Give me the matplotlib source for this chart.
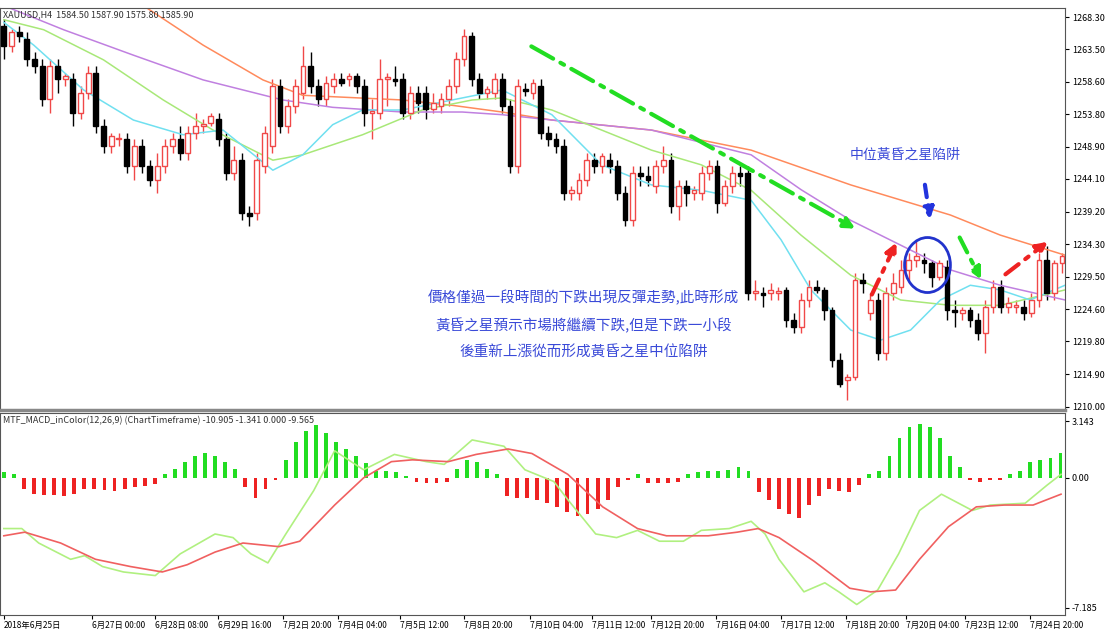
import matplotlib
matplotlib.use("Agg")
import matplotlib.pyplot as plt
from matplotlib.patches import Ellipse, FancyArrowPatch
import numpy as np

plt.rcParams['font.family'] = ['Noto Sans CJK TC', 'DejaVu Sans']

# ---------------- data ----------------
# candles: (open, high, low, close)
candles = [
 (1267,1268,1262,1264),(1264,1266.5,1263,1266),(1266,1267,1264.5,1265.5),(1265,1266,1261,1262),
 (1262,1263,1260,1261),(1261,1262,1255,1256),(1256,1262,1254,1261),(1261,1262,1257,1259),
 (1259,1260,1258,1259.5),(1259,1260,1252,1254),(1254,1258,1253,1257),(1257,1261,1256,1260),
 (1260,1261,1251,1252),(1252,1253,1248,1249),(1249,1251,1248,1250.5),(1250,1251,1249,1250.2),
 (1250,1251,1245,1246),(1246,1250,1244,1249),(1249,1250,1245,1246),(1246,1247,1243,1244),
 (1244,1248,1242,1246),(1246,1250,1245,1249),(1249,1251,1248,1250),(1250,1252,1247,1248),
 (1248,1252,1247,1251),(1251,1254,1250,1252),(1252,1253,1251,1252.3),(1252.5,1254,1252,1253.5),
 (1253,1254,1249,1250),(1250,1251,1244,1245),(1245,1249,1244,1247),(1247,1248,1238,1239),
 (1239,1240,1237,1238.5),(1239,1248,1238,1247),(1246,1252,1245,1251),(1249,1259,1248,1258),
 (1258,1259,1251,1252),(1252,1256,1251,1255),(1255,1259,1254,1258),(1257,1264,1256,1261),
 (1261,1263,1257,1258),(1258,1259,1255,1256),(1256,1259.5,1255,1258.5),(1258,1260,1257,1259),
 (1259,1260,1258,1258.5),(1259,1260,1258,1259.5),(1259.5,1260,1257,1258),(1258,1259,1252,1254),
 (1254,1256,1250,1254.2),(1254,1262,1253,1259),(1259,1260,1255,1259.3),(1259,1261,1258,1258.8),
 (1259,1260,1253,1254),(1254,1258,1253,1257),(1257,1258,1254,1255.5),(1257,1258,1253,1254.5),
 (1254.5,1257,1254,1255.5),(1255,1257,1254,1256),(1256,1259,1255,1258),(1258,1263,1257,1262),
 (1262,1266.5,1261,1265.5),(1265.5,1266,1258,1259),(1259,1260,1256,1257),(1257,1258,1256,1257.5),
 (1257,1260,1256,1259),(1259,1260,1254,1255),(1255,1256,1245,1246),(1246,1259,1245,1258),
 (1257.5,1258.5,1256.5,1257.2),(1257,1259,1256,1258.5),(1258,1259,1250,1251),(1251,1252,1249,1250),
 (1250,1251,1248,1249),(1249,1250,1241,1242),(1242,1243,1241,1242.5),(1242,1245,1241,1244),
 (1244,1248,1243,1247),(1247,1248,1245,1246),(1246,1248,1245,1247.5),(1247,1248,1245,1246),
 (1246,1247,1241,1242),(1242,1243,1237,1238),(1238,1246,1237,1245),(1245,1246,1243,1244.5),
 (1244.5,1246,1243,1244),(1243,1247,1242,1246),(1246,1249,1245,1247),(1247,1248,1239,1240),
 (1240,1244,1238,1243),(1243,1244,1240,1242),(1242,1243,1241,1242.5),(1242,1246,1241,1245),
 (1245,1247,1244,1246),(1246,1247,1239,1240.5),(1240.5,1244,1240,1243),(1243,1246,1242,1245),
 (1245,1246,1243,1244.5),(1245,1246,1226,1227),(1227,1229,1226,1227.3),(1227,1228,1225,1226.8),
 (1227,1228.5,1226,1227.5),(1227,1228,1226,1227.3),(1227.5,1228,1222,1223),(1223,1224,1221,1222),
 (1222,1227,1221,1226),(1226,1229,1225,1228),(1228,1229,1227,1227.5),(1227.5,1228,1223,1224.5),
 (1224.5,1225,1216,1217),(1217,1218,1213,1213.5),(1214,1215,1211,1214.5),(1214.5,1230,1214,1229),
 (1229,1230,1227,1228.5),(1224,1227,1223,1226),(1226,1227,1217,1218),(1218,1228,1217,1227),
 (1227,1230,1226,1228.5),(1228,1232,1227,1230.5),(1230.5,1233,1229,1232),(1232,1235,1231,1232.5),
 (1232,1233,1230,1231.5),(1231.5,1232,1228,1229.5),(1229.5,1232,1229,1231.5),(1231,1232,1223,1224.5),
 (1224.5,1226,1222,1224.2),(1224,1225,1223,1224.5),(1224.5,1225,1222,1223),(1223,1224,1220,1221),
 (1221,1226,1218,1225),(1225,1229,1224,1228),(1228,1229,1224,1225),(1225,1226.5,1224,1225.5),
 (1225,1226,1224,1225.3),(1225,1226,1223,1224),(1224,1227,1223.5,1226),(1226,1233,1225,1232),
 (1232,1234,1226,1227),(1227,1232,1226,1231.5),(1231.5,1233,1230,1232.5),
]

# moving averages: (x position in chart pixels, price)
ma_orange_px = [140,200,260,300,400,450,500,550,650,750,850,950,1000,1065]
ma_orange = [1270,1264.1,1258.9,1256.6,1255.9,1255.1,1254.1,1252.9,1251.4,1248.4,1243.2,1238.7,1235.7,1232.7]
ma_purple_px = [0,60,130,200,280,330,400,460,500,550,650,750,800,850,900,950,1000,1065]
ma_purple = [1270,1266.4,1262.6,1258.9,1255.9,1254.8,1254.1,1254.1,1253.7,1252.9,1251.4,1247.7,1242.5,1237.9,1234.2,1230.5,1228.2,1226.0]
ma_green_px = [0,40,100,160,210,270,300,360,420,470,500,550,600,650,700,750,800,850,900,950,1000,1065]
ma_green = [1267.9,1266.4,1261.9,1255.9,1251.4,1246.9,1247.7,1250.7,1254.4,1255.9,1256.2,1254.4,1251.4,1248.4,1246.2,1242.4,1235.7,1229.7,1226.0,1225.2,1225.2,1227.5]
ma_cyan_px = [0,30,80,130,180,220,270,300,330,360,400,450,500,550,600,650,700,750,780,810,850,880,910,940,970,1000,1030,1065]
ma_cyan = [1267.5,1264.1,1257.4,1252.9,1250.7,1251.4,1245.4,1247.7,1252.2,1254.4,1254.4,1255.9,1257.4,1253.7,1246.2,1243.2,1242.4,1240.9,1235,1227.5,1221.5,1220.0,1221.5,1226.0,1228.2,1227.5,1226.0,1228.2]

# MACD histogram (one bar per higher-timeframe step)
macd_hist = [0.35,0.2,-0.6,-0.9,-0.95,-0.95,-1.0,-0.9,-0.6,-0.6,-0.65,-0.7,-0.6,-0.5,-0.45,-0.35,
 0.2,0.5,0.9,1.2,1.4,1.2,0.9,0.5,-0.5,-1.1,-0.6,-0.1,
 1.0,2.0,2.6,2.9,2.5,2.0,1.6,1.2,0.8,0.4,0.4,0.3,0.1,
 -0.2,-0.3,-0.3,-0.2,0.5,1.0,0.9,0.5,0.2,
 -1.0,-1.1,-1.1,-1.2,-1.4,-1.6,-1.9,-2.1,-2.0,-1.7,-1.2,-0.5,-0.1,
 0.2,-0.3,-0.3,-0.3,-0.2,0.2,0.35,0.4,0.4,0.45,0.6,0.4,
 -0.8,-1.2,-1.7,-2.0,-2.2,-1.5,-1.0,-0.6,-0.7,-0.8,-0.4,
 0.2,0.4,1.2,2.2,2.8,3.0,2.8,2.2,1.2,0.6,
 -0.1,-0.2,-0.1,-0.1,0.2,0.4,0.9,1.0,1.1,1.4]
macd_main_px = [0,18,35,67,81,99,120,152,177,212,230,248,265,283,311,332,361,392,424,442,470,502,523,552,566,594,615,636,658,682,700,728,750,764,778,803,824,838,856,877,898,919,941,972,990,1025,1047,1061]
macd_main = [-2.8,-2.8,-3.6,-4.5,-4.3,-4.9,-5.2,-5.4,-4.2,-3.1,-3.3,-4.2,-4.7,-3.1,-0.7,1.5,0.45,1.3,0.9,0.75,2.1,1.75,0.45,-0.2,-1.2,-3.1,-3.3,-2.9,-3.5,-3.5,-2.9,-2.8,-2.4,-3.1,-4.5,-6.3,-5.8,-6.3,-7.0,-6.2,-4.2,-1.8,-0.9,-1.8,-1.5,-1.4,-0.4,0.2]
macd_signal_px = [0,21,57,92,127,159,184,212,240,276,297,332,361,389,410,446,474,506,530,566,601,636,665,707,736,757,778,813,849,870,895,919,948,976,1004,1033,1061]
macd_signal = [-3.2,-3.0,-3.6,-4.5,-4.9,-5.2,-4.8,-4.1,-3.6,-3.8,-3.5,-1.5,0.0,0.9,1.0,0.9,1.3,1.6,1.35,0.2,-1.6,-2.8,-3.2,-3.2,-3.0,-2.8,-3.3,-4.6,-6.1,-6.3,-6.2,-4.5,-2.7,-1.6,-1.5,-1.5,-0.9]

price_ticks = [1268.30,1263.50,1258.60,1253.80,1248.90,1244.10,1239.20,1234.30,1229.50,1224.60,1219.80,1214.90,1210.00]
macd_ticks = [3.143,0.0,-7.185]
date_labels = ["2018年6月25日","6月27日 00:00","6月28日 08:00","6月29日 16:00","7月2日 20:00","7月4日 04:00",
 "7月5日 12:00","7月8日 20:00","7月10日 04:00","7月11日 12:00","7月12日 20:00","7月16日 04:00",
 "7月17日 12:00","7月18日 20:00","7月20日 04:00","7月23日 12:00","7月24日 20:00"]
date_px = [0,88,152,215,280,335,398,462,528,590,650,715,780,845,905,965,1030]

# ---------------- drawing ----------------
W, H = 1109, 634
fig = plt.figure(figsize=(W/100, H/100), dpi=100)
axp = fig.add_axes([0, 1-410/H, 1065/W, 402/H])
axm = fig.add_axes([0, 1-615/H, 1065/W, 202/H])

n = len(candles)
ppb = 1062/(n-1)  # chart pixels per bar
def px2b(v): return np.asarray(v)/ppb

for i, (o, h, l, c) in enumerate(candles):
    up = c >= o
    col = '#f04848' if up else 'black'
    axp.vlines(i, l, h, color=col, lw=1)
    bot, ht = min(o, c), max(abs(c-o), 0.15)
    axp.bar(i, ht, bottom=bot, width=0.62, facecolor='white' if up else 'black',
            edgecolor=col, lw=1, zorder=3)

axp.plot(px2b(ma_orange_px), ma_orange, color='#ff8a5c', lw=1.1, zorder=2)
axp.plot(px2b(ma_purple_px), ma_purple, color='#c080e0', lw=1.1, zorder=2)
axp.plot(px2b(ma_green_px), ma_green, color='#a8e878', lw=1.1, zorder=2)
axp.plot(px2b(ma_cyan_px), ma_cyan, color='#70e0f0', lw=1.1, zorder=2)

xmax = px2b(1065)
axp.set_xlim(-0.5, xmax)
axp.set_ylim(1209.55, 1269.65)
axp.yaxis.tick_right()
axp.set_yticks(price_ticks)
axp.set_yticklabels([f"{t:.2f}" for t in price_ticks], fontsize=6.5)
axp.set_xticks([])
axp.tick_params(axis='y', length=3, pad=2)

def p(y): return 1268.3-(y-17)*0.1495
def arrow(ax, x0, y0, x1, y1, col, ls):
    a = FancyArrowPatch((px2b(x0), p(y0)), (px2b(x1), p(y1)), arrowstyle='-|>', mutation_scale=16,
                        color=col, lw=3, linestyle=ls, zorder=6)
    ax.add_patch(a)
arrow(axp, 527, 45, 857, 230, '#22dd22', (0, (6, 2, 1, 2)))
arrow(axp, 870, 297, 897, 240, '#ee2222', (0, (4, 2, 1, 2)))
arrow(axp, 924, 182, 930, 222, '#2233dd', (0, (3, 2)))
arrow(axp, 958, 235, 982, 282, '#22dd22', (0, (4, 2, 1, 2)))
arrow(axp, 1003, 276, 1050, 240, '#ee2222', (0, (4, 2, 1, 2)))
axp.add_patch(Ellipse((px2b(927), p(265)), px2b(46), 55*0.1495, fill=False, ec='#2233cc', lw=2, zorder=6))

tc = '#3a4ad8'
axp.text(px2b(905), p(155), "中位黃昏之星陷阱", color=tc, fontsize=10, ha='center', va='center')
for k, s in enumerate(["價格僅過一段時間的下跌出現反彈走勢,此時形成",
                       "黃昏之星預示市場將繼續下跌,但是下跌一小段",
                       "後重新上漲從而形成黃昏之星中位陷阱"]):
    axp.text(px2b(582), p(298+27.5*k), s, color=tc, fontsize=10.5, ha='center', va='center')
axp.text(0.003, 0.995, "XAUUSD,H4  1584.50 1587.90 1575.80 1585.90", transform=axp.transAxes,
         fontsize=6.5, va='top', ha='left', color='#333333')

hx = px2b(np.arange(len(macd_hist))*10.1)
hv = np.array(macd_hist)
axm.bar(hx, hv, width=0.5, color=np.where(hv >= 0, '#22dd22', '#ee2222'))
axm.plot(px2b(macd_main_px), macd_main, color='#b0f080', lw=1.2)
axm.plot(px2b(macd_signal_px), macd_signal, color='#f06060', lw=1.2)
axm.set_xlim(-0.5, xmax)
axm.set_ylim(-7.58, 3.59)
axm.yaxis.tick_right()
axm.set_yticks(macd_ticks)
axm.set_yticklabels(["3.143", "0.00", "-7.185"], fontsize=6.5)
axm.set_xticks(px2b(date_px))
axm.set_xticklabels(date_labels, fontsize=6)
for lab in axm.get_xticklabels():
    lab.set_ha('left')
axm.tick_params(axis='x', length=3, pad=1)
axm.tick_params(axis='y', length=3, pad=2)
axm.text(0.003, 0.985, "MTF_MACD_inColor(12,26,9) (ChartTimeframe) -10.905 -1.341 0.000 -9.565",
         transform=axm.transAxes, fontsize=6.5, va='top', ha='left', color='#333333')

for ax in (axp, axm):
    for s in ax.spines.values():
        s.set_color('#555555'); s.set_linewidth(0.8)
axp.spines['bottom'].set_linewidth(2.5); axp.spines['bottom'].set_color('#888888')

fig.savefig("out.png", dpi=100)
